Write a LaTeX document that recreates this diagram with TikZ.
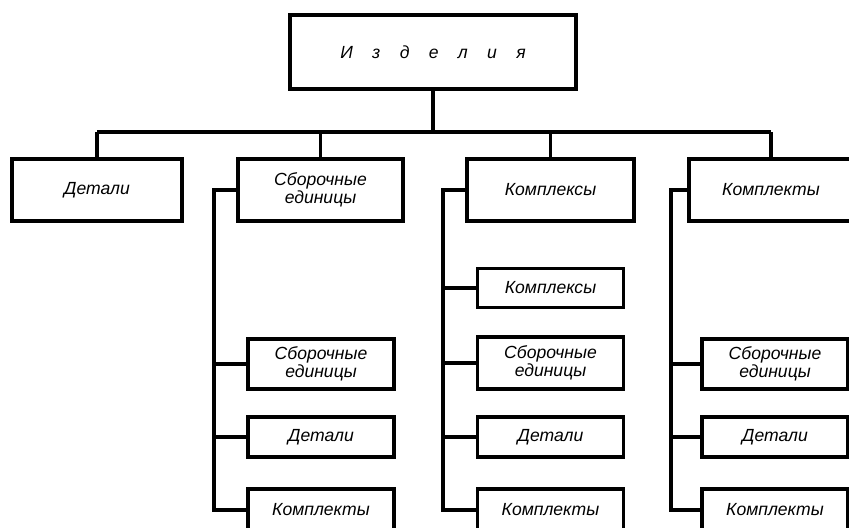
\documentclass[tikz,border=0pt]{standalone}
\usepackage{fontspec}
\setmainfont{Liberation Sans}
\usepackage{tikz}

\tikzset{
	blk/.style={shape=rectangle, draw=black, line width=2.6pt, inner sep=0pt, align=center,
		font=\fontsize{12.5}{13}\selectfont\itshape},
	mainblk/.style={blk, minimum height=1.55cm},
	subblk/.style={blk, minimum width=3.65cm, minimum height=1cm},
	link/.style={-, line width=2.6pt, line join=miter},
}

\begin{document}
\begin{tikzpicture}[x=0.025cm, y=-0.025cm]
	
	\useasboundingbox (0,0) rectangle (849,527);
	
	\node[blk, minimum width=7.15cm, minimum height=1.85cm] (izd) at (433,52) {И\hspace{1.1em}з\hspace{1.1em}д\hspace{1.1em}е\hspace{1.1em}л\hspace{1.1em}и\hspace{1.1em}я};
	
	\node[mainblk, minimum width=4.25cm]  (det) at (97,190)    {Детали};
	\node[mainblk, minimum width=4.125cm] (sbor) at (320.5,190) {Сборочные\\единицы};
	\node[mainblk, minimum width=4.175cm] (ks) at (550.5,190)  {Комплексы};
	\node[mainblk, minimum width=4.1cm]   (kt) at (771,190)    {Комплекты};
	
	\node[subblk, minimum height=1.25cm] (sbor1) at (321,364) {Сборочные\\единицы};
	\node[subblk]                        (det1) at (321,437)  {Детали};
	\node[subblk, minimum height=1.05cm] (kt1) at (321,510)   {Комплекты};
	
	\node[subblk, minimum height=0.975cm] (ks2) at (550.5,288)  {Комплексы};
	\node[subblk, minimum height=1.3cm]   (sbor2) at (550.5,363) {Сборочные\\единицы};
	\node[subblk]                         (det2) at (550.5,437)  {Детали};
	\node[subblk, minimum height=1.05cm]  (kt2) at (550.5,510)   {Комплекты};
	
	\node[subblk, minimum height=1.25cm] (sbor3) at (775,364) {Сборочные\\единицы};
	\node[subblk]                        (det3) at (775,437)  {Детали};
	\node[subblk, minimum height=1.05cm] (kt3) at (775,510)   {Комплекты};
	
	\coordinate (bus) at (433,132);
	\coordinate (l1) at (214,0);
	\coordinate (l2) at (443,0);
	\coordinate (l3) at (671,0);
	
	\path[link] (izd.south) edge (izd.south |- bus);
	\draw[link] (det.north |- bus) -- (kt.north |- bus);
	\path[link] (det.north) edge (det.north |- bus);
	\path[link] (sbor.north) edge (sbor.north |- bus);
	\path[link] (ks.north) edge (ks.north |- bus);
	\path[link] (kt.north) edge (kt.north |- bus);
	
	\draw[link] (sbor.west) -| (l1 |- kt1.west) -- (kt1.west);
	\path[link] (l1 |- sbor1.west) edge (sbor1.west);
	\path[link] (l1 |- det1.west) edge (det1.west);
	
	\draw[link] (ks.west) -| (l2 |- kt2.west) -- (kt2.west);
	\path[link] (l2 |- ks2.west) edge (ks2.west);
	\path[link] (l2 |- sbor2.west) edge (sbor2.west);
	\path[link] (l2 |- det2.west) edge (det2.west);
	
	\draw[link] (kt.west) -| (l3 |- kt3.west) -- (kt3.west);
	\path[link] (l3 |- sbor3.west) edge (sbor3.west);
	\path[link] (l3 |- det3.west) edge (det3.west);
	
\end{tikzpicture}
\end{document}
